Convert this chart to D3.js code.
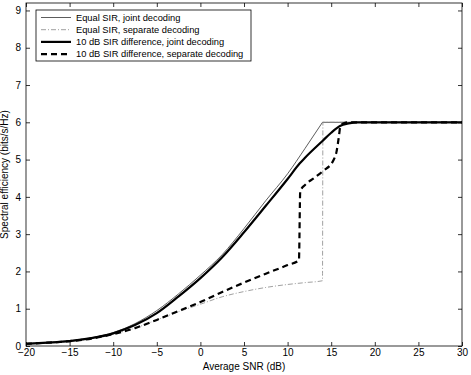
<!DOCTYPE html>
<html>
<head>
<meta charset="utf-8">
<script src="https://cdn.jsdelivr.net/npm/d3@7"></script>
<style>
  body { margin: 0; background: #fff; }
  svg { font-family: "Liberation Sans", Arial, sans-serif; }
</style>
</head>
<body>
<div id="chart"></div>
<script>
// values (SNR in dB, spectral efficiency in bits/s/Hz)
var equalJointSnr = [-20, -17.5, -15, -12.5, -10, -7.5, -5, -2.5, 0, 2.5, 5, 7.5, 10, 12, 14, 16, 20, 25, 30];
var equalJointEff = [0.06, 0.09, 0.14, 0.22, 0.36, 0.6, 0.95, 1.4, 1.9, 2.45, 3.15, 3.9, 4.62, 5.3, 6.0, 6.0, 6.0, 6.0, 6.0];

var equalSepSnr = [-20, -17.5, -15, -12.5, -10, -7.5, -5, -2.5, 0, 2.5, 5, 7.5, 10, 12, 14, 14.05, 16, 20, 25, 30];
var equalSepEff = [0.06, 0.09, 0.13, 0.2, 0.32, 0.48, 0.7, 0.92, 1.12, 1.32, 1.46, 1.57, 1.65, 1.7, 1.75, 6.0, 6.0, 6.0, 6.0, 6.0];

var diffJointSnr = [-20, -17.5, -15, -12.5, -10, -7.5, -5, -2.5, 0, 2.5, 5, 7.5, 10, 11.4, 12, 14, 15, 16, 17, 18, 20, 25, 30];
var diffJointEff = [0.06, 0.09, 0.13, 0.21, 0.34, 0.56, 0.88, 1.33, 1.82, 2.38, 3.05, 3.76, 4.48, 4.9, 5.05, 5.5, 5.72, 5.9, 5.97, 6.0, 6.0, 6.0, 6.0];

var diffSepSnr = [-20, -17.5, -15, -12.5, -10, -7.5, -5, -2.5, 0, 2.5, 5, 7.5, 10, 11.3, 11.45, 12, 13, 14, 15.3, 15.6, 15.9, 16.05, 16.5, 17, 20, 25, 30];
var diffSepEff = [0.06, 0.09, 0.13, 0.2, 0.32, 0.48, 0.7, 0.94, 1.18, 1.45, 1.7, 1.94, 2.17, 2.3, 4.15, 4.32, 4.5, 4.68, 5.0, 5.2, 5.65, 5.9, 5.98, 6.0, 6.0, 6.0, 6.0];

var legendLabels = [
  "Equal SIR, joint decoding",
  "Equal SIR, separate decoding",
  "10 dB SIR difference, joint decoding",
  "10 dB SIR difference, separate decoding"
];

var xTicks = [-20, -15, -10, -5, 0, 5, 10, 15, 20, 25, 30];
var yTicks = [0, 1, 2, 3, 4, 5, 6, 7, 8, 9];

var W = 471, H = 375;
var box = { left: 26, right: 462, top: 3, bottom: 346 };

var svg = d3.select("#chart").append("svg")
  .attr("width", W)
  .attr("height", H);

var x = d3.scaleLinear().domain([-20, 30]).range([box.left, box.right]);
var y = d3.scaleLinear().domain([0, 9.2]).range([box.bottom, box.top]);

// series styles; sharp = corner where the curve meets the 6 bits/s/Hz ceiling
var series = [
  { snr: equalJointSnr, eff: equalJointEff, color: "#333", width: 0.8, dash: null, sharp: true },
  { snr: equalSepSnr, eff: equalSepEff, color: "#888", width: 0.8, dash: "5,2,1,2", sharp: false },
  { snr: diffJointSnr, eff: diffJointEff, color: "#000", width: 2.2, dash: null, sharp: false },
  { snr: diffSepSnr, eff: diffSepEff, color: "#000", width: 2.2, dash: "6,4", sharp: false }
];

function lineGen(curve) {
  return d3.line()
    .x(function (d) { return x(d[0]); })
    .y(function (d) { return y(d[1]); })
    .curve(curve);
}

series.forEach(function (s) {
  var pts = s.snr.map(function (v, i) { return [v, s.eff[i]]; });
  var d;
  if (s.sharp) {
    // smooth up to the ceiling, then straight along it
    var k = s.eff.indexOf(6.0);
    d = lineGen(d3.curveMonotoneX)(pts.slice(0, k + 1)) +
        lineGen(d3.curveLinear)(pts.slice(k)).replace(/^M/, "L");
  } else {
    d = lineGen(d3.curveMonotoneX)(pts);
  }
  svg.append("path")
    .attr("fill", "none")
    .attr("stroke", s.color)
    .attr("stroke-width", s.width)
    .attr("stroke-dasharray", s.dash)
    .attr("d", d);
});

// axes, matlab style: ticks inside on all four sides
svg.append("g")
  .attr("transform", "translate(0," + box.bottom + ")")
  .call(d3.axisBottom(x).tickValues(xTicks).tickSize(-4).tickPadding(3));
svg.append("g")
  .attr("transform", "translate(0," + box.top + ")")
  .call(d3.axisTop(x).tickValues(xTicks).tickSize(-4).tickFormat(""));
svg.append("g")
  .attr("transform", "translate(" + box.left + ",0)")
  .call(d3.axisLeft(y).tickValues(yTicks).tickSize(-4).tickPadding(5));
svg.append("g")
  .attr("transform", "translate(" + box.right + ",0)")
  .call(d3.axisRight(y).tickValues(yTicks).tickSize(-4).tickFormat(""));

svg.selectAll(".domain").remove();
svg.selectAll(".tick line").attr("stroke", "#000").attr("stroke-width", 0.8);
svg.selectAll(".tick text").attr("font-size", 10).attr("fill", "#000")
  .attr("font-family", "Liberation Sans, Arial, sans-serif");

svg.append("rect")
  .attr("x", box.left).attr("y", box.top)
  .attr("width", box.right - box.left).attr("height", box.bottom - box.top)
  .attr("fill", "none").attr("stroke", "#000").attr("stroke-width", 0.8);

// axis labels
svg.append("text")
  .attr("x", (box.left + box.right) / 2)
  .attr("y", 370)
  .attr("text-anchor", "middle")
  .attr("font-size", 10)
  .text("Average SNR (dB)");

svg.append("text")
  .attr("transform", "translate(8," + (box.top + box.bottom) / 2 + ") rotate(-90)")
  .attr("text-anchor", "middle")
  .attr("font-size", 10)
  .text("Spectral efficiency (bits/s/Hz)");

// legend
var lg = svg.append("g");
lg.append("rect")
  .attr("x", 36).attr("y", 10)
  .attr("width", 215).attr("height", 51)
  .attr("fill", "#fff").attr("stroke", "#000").attr("stroke-width", 0.8);

legendLabels.forEach(function (label, i) {
  var ly = 17.5 + i * 12.2;
  lg.append("line")
    .attr("x1", 41).attr("x2", 71)
    .attr("y1", ly).attr("y2", ly)
    .attr("stroke", series[i].color)
    .attr("stroke-width", series[i].width)
    .attr("stroke-dasharray", series[i].dash);
  lg.append("text")
    .attr("x", 76).attr("y", ly)
    .attr("dy", "0.35em")
    .attr("font-size", 9.3)
    .text(label);
});
</script>
</body>
</html>
